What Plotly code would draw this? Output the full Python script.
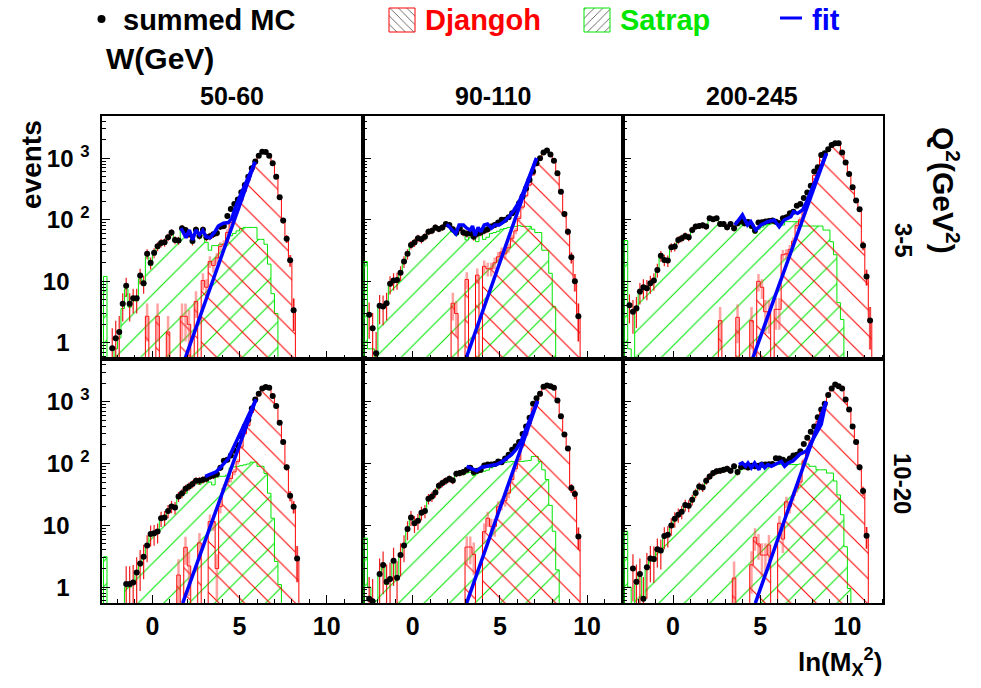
import numpy as np
import plotly.graph_objects as go

# ---------------- data ----------------
BIN_LO = -2.8      # lower edge of first bin in ln(M_X^2)
BIN_W = 0.2        # bin width

W_LABELS = ["50-60", "90-110", "200-245"]
Q2_LABELS = ["3-5", "10-20"]
Y_TICKS = [1, 10, 100, 1000]
Y_TICKTEXT = ["1\u00a0\u00a0\u00a0", "10\u00a0\u00a0\u00a0", "10 <sup>2</sup>", "10 <sup>3</sup>"]
X_TICKS = [0, 5, 10]

# panel W 50-60, Q2 3-5
mc_w50_q3 = [None, None, 0.82, 1.19, 1.5, 4.3, 8.5, 4.3, 5.3, 5.3,
             12.4, 9.3, 28, 20, 29, 37, 42, 43, 52, 62,
             47, 46, 73, 68, 58, 45, 69, 55, 69, 52,
             54, 58, 61, 77, 79, 115, 150, 180, 214, 280,
             367, 500, 685, 880, 1100, 1275, 1260, 1100, 830, 500,
             232, 97, 49, 22, 3.4, None]
sat_w50_q3 = [12, 0, 0, 0.8, 1.2, 3.6, 7.5, 3.8, 4.8, 4.8,
              11, 8.5, 25, 18, 27, 34, 39, 40, 49, 58,
              44, 43, 68, 63, 54, 42, 62, 50, 56, 43,
              32, 38, 38, 40, 40, 50, 55, 60, 66, 72,
              75, 75, 75, 75, 48, 48, 40, 19, 6.3, 3,
              0, 0, 0, 0, 0, 0]
dj_w50_q3 = [0, 0, 0, 0, 0, 0, 0, 0, 0, 0,
             0, 0, 2.7, 0, 0, 2.7, 0, 0, 1.5, 0,
             0, 0, 2.7, 2.7, 2, 0, 4.7, 0, 10.3, 8,
             21, 18, 24, 37, 40, 62, 90, 115, 145, 205,
             290, 425, 610, 805, 1050, 1235, 1220, 1080, 825, 497,
             232, 97, 49, 22, 3.4, 0]
fexp_x_w50_q3 = [1.87, 5.89]
fexp_y_w50_q3 = [0.55, 870]
ftot_x_w50_q3 = [1.64, 1.93, 2.12, 2.31, 2.5, 2.7, 2.89, 3.08, 3.3, 3.59, 3.78, 4.07, 4.36, 4.55, 4.74, 5.03, 5.89]
ftot_y_w50_q3 = [73, 51, 68, 47, 68, 57, 67, 53, 51, 64, 79, 88, 90, 105, 153, 243, 870]

# panel W 90-110, Q2 3-5
mc_w90_q3 = [None, 2.85, 1.73, 0.68, 4, 3.9, 4.4, 9.1, 10.3, 10.5,
             13.8, 21, 28, 39, 42.6, 50, 48, 53, 64, 66.5,
             75, 71, 75, 85, 82, 70, 62, 72.5, 62, 59,
             60.5, 53, 59, 62, 66, 70, 77.6, 82, 90, 100,
             100, 110, 127, 144, 185, 238, 323, 443, 605, 826,
             1000, 1240, 1330, 1150, 910, 568, 286, 124, 64, 24.5,
             10, 2.7]
sat_w90_q3 = [21, 0.8, 0.8, 0.6, 3.8, 3.7, 4.2, 8.5, 9.8, 10,
              13, 20, 27, 37, 40, 47, 46, 51, 61, 63,
              71, 68, 72, 80, 75, 63, 56, 68, 58, 47,
              52, 50, 44, 58, 48, 52, 60, 62, 65, 70,
              72, 75, 77, 78, 80, 78, 78, 78, 70, 62,
              62, 32, 32, 13.5, 3.9, 0, 0, 0, 0, 0,
              0, 0]
dj_w90_q3 = [0, 0, 0, 0, 0, 0, 0, 0, 0, 0,
             0, 0, 0, 0, 0, 0, 0, 0, 0, 0,
             0, 0, 0, 0, 0, 4.4, 3, 0, 0, 10.7,
             0, 0, 12.6, 0, 17.5, 16, 16, 20, 25, 30,
             28, 35, 50, 66, 105, 160, 245, 365, 535, 765,
             940, 1210, 1300, 1140, 905, 568, 286, 124, 64, 24.5,
             10, 2.7]
fexp_x_w90_q3 = [3.05, 7.1]
fexp_y_w90_q3 = [0.55, 1000]
ftot_x_w90_q3 = [1.95, 2.19, 2.47, 2.66, 2.91, 3.1, 3.29, 3.43, 3.58, 3.75, 3.91, 4.1, 4.29, 4.52, 4.71,
                 4.96, 5.24, 5.53, 5.82, 6.1, 6.35, 7.1]
ftot_y_w90_q3 = [85, 73, 59, 82, 82, 73, 68, 79, 55, 75, 64, 82, 85, 73, 82, 82, 93, 112, 144, 197, 286, 1000]

# panel W 200-245, Q2 3-5
mc_w200_q3 = [None, 4.1, 3.2, 3.65, 6.8, 8.0, 7.7, 9.3, 10.3, 15.3,
              25.9, 22.2, 21.7, 35.7, 36.6, 47, 50, 54.6, 52, 68.4,
              77.5, 79.4, 81.4, 77.5, 106, 102, 106, 85.5, 85.5, 75.5,
              85.5, 72.7, 88, 95, 88, 92, 80, 66.7, 90, 91,
              93.4, 95, 97, 93, 87.5, 106, 110, 127, 135, 169,
              180, 225, 277, 355, 605, 711, 1127, 1200, 1390, 1636,
              1740, 1740, 1240, 847, 554, 336, 205, 148, 38, 12,
              2.3]
sat_w200_q3 = [46, 0.8, 0, 3.3, 6.2, 7.4, 7.1, 8.6, 9.6, 14.2,
               24, 20.6, 20.2, 33, 34, 44, 46.5, 51, 48, 63.6,
               72, 74, 76, 72, 98, 95, 98, 80, 78, 70,
               79, 68, 80, 84, 80, 84, 72, 60, 70, 76,
               82, 84, 86, 86, 80, 82, 93, 93, 93, 93,
               93, 79, 79, 79, 79, 79, 79, 68, 68, 44,
               27, 4.5, 2.4, 0, 0, 0, 0, 0, 0, 0,
               0]
dj_w200_q3 = [0, 0, 0, 0, 0, 0, 0, 0, 0, 0,
              0, 0, 0, 0, 0, 0, 0, 0, 0, 0,
              0, 0, 0, 0, 0, 0, 0, 2.3, 0, 0,
              0, 0, 2.6, 0, 0, 0, 2.3, 0, 10, 8,
              3.2, 3.2, 0, 3.5, 3.5, 27, 28, 33, 45, 80,
              100, 146, 198, 276, 526, 632, 1048, 1132, 1322, 1592,
              1713, 1735, 1238, 847, 554, 336, 205, 148, 38, 12,
              2.3]
fexp_x_w200_q3 = [4.56, 8.8]
fexp_y_w200_q3 = [0.55, 1200]
ftot_x_w200_q3 = [3.55, 3.98, 4.27, 4.46, 4.75, 5.04, 5.42, 5.8, 6.09, 6.37, 6.76, 6.91, 7.14, 7.43, 7.71, 7.9, 8.8]
ftot_y_w200_q3 = [82, 120, 82, 93, 68, 82, 93, 99, 77, 99, 112, 135, 127, 144, 210, 286, 1200]

# panel W 50-60, Q2 10-20
mc_w50_q10 = [None, None, None, None, None, None, 1.12, 1.12, 1.19, 1.73,
              2.42, 3.1, 4.7, 7.2, 7.4, 7.9, 13, 13.4, 17.1, 20.2,
              19.4, 29.3, 33, 38.9, 42.6, 46.5, 52.5, 52.5, 54.6, 56.6,
              61.7, 64, 67.6, 85, 111, 115, 135, 161, 197, 276,
              398, 510, 773, 1087, 1343, 1637, 1720, 1680, 1230, 847,
              454, 223, 86.5, 30, 20, 2.9]
sat_w50_q10 = [3.1, 0, 0, 0, 0, 0, 1.0, 1.0, 1.1, 1.6,
               2.2, 2.9, 4.4, 6.8, 7.0, 7.5, 12.3, 12.7, 16.2, 19,
               18.4, 27, 30, 33, 39, 44, 50, 46, 50, 54,
               50, 45, 60, 62, 62, 65, 85, 88, 90, 92,
               95, 98, 105, 105, 90, 90, 69, 33, 13, 2.6,
               1.1, 0, 0, 0, 0, 0]
dj_w50_q10 = [0, 0, 0, 0, 0, 0, 0, 0, 0, 0,
              0, 0, 0, 0, 0, 0, 0, 0, 0, 0,
              0, 1.57, 0, 4.4, 2.2, 0, 0, 5.2, 0, 0,
              11.5, 11.5, 2, 20, 40, 50, 57, 73, 107, 184,
              303, 412, 668, 982, 1253, 1549, 1651, 1649, 1217, 844,
              453, 223, 86.5, 30, 20, 2.9]
fexp_x_w50_q10 = [1.74, 5.94]
fexp_y_w50_q10 = [0.55, 1087]
ftot_x_w50_q10 = [3.03, 3.36, 3.65, 3.88, 4.13, 4.36, 4.64, 4.87, 5.94]
ftot_y_w50_q10 = [62, 68, 73, 85, 102, 120, 178, 244, 1087]

# panel W 90-110, Q2 10-20
mc_w90_q10 = [None, 0.65, 0.59, None, 1.63, 2.27, 1.22, 1.35, 2.68, 1.42,
              3.3, 4.7, 8.7, 13.4, 10.8, 11.8, 16, 17.1, 26.8, 29.3,
              34, 43.6, 48.2, 52.5, 56.6, 53.2, 68.2, 70, 72.5, 79,
              85, 72.5, 76, 79, 93, 96, 96, 98, 108, 105,
              120, 139, 167, 190, 223, 300, 398, 547, 923, 1130,
              1343, 1745, 1823, 1780, 1680, 1045, 582, 294, 174, 40,
              32, 6.6]
sat_w90_q10 = [6.2, 1.0, 0, 0.6, 1.5, 2.1, 1.1, 1.25, 2.5, 1.3,
               3.1, 4.4, 8.1, 12.5, 10, 11, 15, 16, 25, 27,
               32, 41, 45, 49, 53, 50, 64, 65, 66, 70,
               72, 64, 70, 72, 75, 78, 85, 90, 96, 100,
               104, 106, 108, 108, 108, 108, 110, 112, 130, 130,
               108, 79, 55, 21, 8, 1.9, 0, 0, 0, 0,
               0, 0]
dj_w90_q10 = [0, 0, 0, 0, 0, 0, 0, 0, 0, 0,
              0, 0, 0, 0, 0, 0, 0, 0, 0, 0,
              0, 0, 0, 0, 0, 0, 0, 0, 0, 4.45,
              4.45, 3.4, 0, 0, 7.9, 13, 9.6, 9.6, 20, 22,
              25, 33, 55, 82, 115, 192, 288, 435, 793, 1000,
              1235, 1666, 1768, 1759, 1672, 1045, 582, 294, 174, 40,
              32, 6.6]
fexp_x_w90_q10 = [3.09, 7.16]
fexp_y_w90_q10 = [0.55, 1020]
ftot_x_w90_q10 = [3.09, 3.38, 3.67, 3.95, 4.24, 4.52, 4.81, 5.09, 5.38, 5.66, 5.95, 6.23, 6.52, 7.16]
ftot_y_w90_q10 = [90, 83, 76, 87, 90, 90, 96, 105, 120, 139, 171, 234, 376, 1020]

# panel W 200-245, Q2 10-20
mc_w200_q10 = [None, None, 2.0, 1.22, 1.63, 0.65, 2.1, 2.9, 2.85, 4.1,
               3.9, 6.7, 7.0, 9.9, 12.7, 14.8, 16.6, 21.3, 20.8, 26,
               33.2, 42.6, 41, 52.5, 61.7, 70, 74.5, 76.4, 79, 82.4,
               76.4, 90, 72.5, 88, 90, 86, 92, 90, 92, 96,
               96, 97, 98, 122, 120, 115, 108, 120, 135, 139,
               158, 207, 260, 325, 398, 561, 750, 923, 1276, 1637,
               1900, 1780, 1637, 1087, 748, 398, 223, 87, 36, 6.8]
sat_w200_q10 = [8, 1.0, 0.5, 1.1, 1.5, 0.6, 1.9, 2.7, 2.6, 3.8,
                3.6, 6.2, 6.5, 9.2, 11.8, 13.8, 15.4, 19.8, 19.3, 24,
                31, 39.6, 38, 49, 57, 65, 69, 71, 73, 76,
                71, 83, 67, 80, 82, 80, 85, 84, 85, 88,
                90, 92, 92, 96, 96, 96, 96, 96, 96, 96,
                98, 98, 98, 90, 90, 79, 79, 79, 70, 70,
                52, 31, 14.8, 4.5, 0.95, 0, 0, 0, 0, 0]
dj_w200_q10 = [0, 0, 0, 0, 0, 0, 0, 0, 0, 0,
               0, 0, 0, 0, 0, 0, 0, 0, 0, 0,
               0, 0, 0, 0, 0, 0, 0, 0, 0, 0,
               0, 1.4, 0, 0, 0, 0, 2.3, 6.4, 5, 3.3,
               3.3, 4.8, 0, 0, 10.8, 6, 24, 20, 30, 40,
               50, 110, 162, 235, 308, 482, 671, 844, 1206, 1567,
               1848, 1749, 1622, 1083, 747, 398, 223, 87, 36, 6.8]
fexp_x_w200_q10 = [4.72, 8.78]
fexp_y_w200_q10 = [0.55, 1000]
ftot_x_w200_q10 = [3.78, 3.97, 4.16, 4.3, 4.49, 4.68, 4.93, 5.06, 5.26, 5.45, 5.64, 5.93, 6.21, 6.4, 6.6,
                   6.88, 7.27, 7.65, 7.93, 8.22, 8.5, 8.78]
ftot_y_w200_q10 = [96, 102, 90, 102, 85, 102, 79, 102, 85, 96, 90, 98, 108, 90, 102,
                   110, 141, 158, 215, 295, 427, 1000]

PANELS = [
    (mc_w50_q3, dj_w50_q3, sat_w50_q3, fexp_x_w50_q3, fexp_y_w50_q3, ftot_x_w50_q3, ftot_y_w50_q3),
    (mc_w90_q3, dj_w90_q3, sat_w90_q3, fexp_x_w90_q3, fexp_y_w90_q3, ftot_x_w90_q3, ftot_y_w90_q3),
    (mc_w200_q3, dj_w200_q3, sat_w200_q3, fexp_x_w200_q3, fexp_y_w200_q3, ftot_x_w200_q3, ftot_y_w200_q3),
    (mc_w50_q10, dj_w50_q10, sat_w50_q10, fexp_x_w50_q10, fexp_y_w50_q10, ftot_x_w50_q10, ftot_y_w50_q10),
    (mc_w90_q10, dj_w90_q10, sat_w90_q10, fexp_x_w90_q10, fexp_y_w90_q10, ftot_x_w90_q10, ftot_y_w90_q10),
    (mc_w200_q10, dj_w200_q10, sat_w200_q10, fexp_x_w200_q10, fexp_y_w200_q10, ftot_x_w200_q10, ftot_y_w200_q10),
]

# ---------------- styling / layout ----------------
W, H = 981, 688
FONT = "Liberation Sans, Arial, Helvetica, sans-serif"
RED = "#ff0000"
GREEN = "#00e600"
BLUE = "#0000ff"
ERR_RED = "rgba(255,70,70,0.5)"
MC_ERR = "rgba(235,0,0,0.9)"
FLOOR = 0.01
X_RANGE = [-2.87, 12.06]
Y_RANGE = [np.log10(0.547), 3.69]

COL_PX = [(102.3, 362.7), (362.7, 623.0), (623.0, 883.3)]
ROW_PX = [(115.7, 359.0), (359.0, 603.3)]


def px_x(p):
    return p / W


def px_y(p):
    return 1 - p / H


def step_outline(vals):
    n = len(vals)
    e = BIN_LO + BIN_W * np.arange(n + 1)
    v = [val if val and val > 0 else FLOOR for val in vals]
    xs = [e[0]] + list(e[:-1]) + [e[-1]]
    ys = [FLOOR] + v + [FLOOR]
    return xs, ys


def centers(n):
    return BIN_LO + BIN_W * (np.arange(n) + 0.5)


fig = go.Figure()
minor_y = [d * 10 ** k for k in range(-1, 4) for d in range(2, 10)]

for i, (mc, dj, sat, fex, fey, ftx, fty) in enumerate(PANELS):
    r, c = divmod(i, 3)
    n = i + 1
    xa = "x" if n == 1 else f"x{n}"
    ya = "y" if n == 1 else f"y{n}"

    # Satrap histogram
    sx, sy = step_outline(sat)
    fig.add_trace(go.Scatter(x=sx, y=sy, mode="lines", xaxis=xa, yaxis=ya,
                             line=dict(color=GREEN, width=1, shape="hv"),
                             fill="toself", fillcolor="rgba(0,0,0,0)",
                             fillpattern=dict(shape="/", fgcolor=GREEN, fgopacity=1,
                                              bgcolor="rgba(0,0,0,0)", size=18, solidity=0.06),
                             hoverinfo="skip", showlegend=False))
    # Djangoh histogram
    dx, dy = step_outline(dj)
    fig.add_trace(go.Scatter(x=dx, y=dy, mode="lines", xaxis=xa, yaxis=ya,
                             line=dict(color=RED, width=1, shape="hv"),
                             fill="toself", fillcolor="rgba(0,0,0,0)",
                             fillpattern=dict(shape="\\", fgcolor=RED, fgopacity=1,
                                              bgcolor="rgba(0,0,0,0)", size=18, solidity=0.06),
                             hoverinfo="skip", showlegend=False))
    # Djangoh error bars
    cen = centers(len(dj))
    ex = [cx for cx, v in zip(cen, dj) if v > 0]
    ey = [v for v in dj if v > 0]
    fig.add_trace(go.Scatter(x=ex, y=ey, mode="markers", xaxis=xa, yaxis=ya,
                             marker=dict(size=1, color="rgba(0,0,0,0)"),
                             error_y=dict(type="sqrt", color=ERR_RED, thickness=2.5, width=0),
                             hoverinfo="skip", showlegend=False))
    # summed MC points
    cen = centers(len(mc))
    mx = [cx for cx, v in zip(cen, mc) if v is not None]
    my = [v for v in mc if v is not None]
    fig.add_trace(go.Scatter(x=mx, y=my, mode="markers", xaxis=xa, yaxis=ya,
                             marker=dict(size=6, color="black"),
                             error_y=dict(type="sqrt", color=MC_ERR, thickness=1.2, width=0),
                             hoverinfo="skip", showlegend=False))
    # fits
    fig.add_trace(go.Scatter(x=fex, y=fey, mode="lines", xaxis=xa, yaxis=ya,
                             line=dict(color=BLUE, width=3.5), hoverinfo="skip", showlegend=False))
    fig.add_trace(go.Scatter(x=ftx, y=fty, mode="lines", xaxis=xa, yaxis=ya,
                             line=dict(color=BLUE, width=3.5), hoverinfo="skip", showlegend=False))

    xk = "xaxis" if n == 1 else f"xaxis{n}"
    yk = "yaxis" if n == 1 else f"yaxis{n}"
    fig.layout[xk] = dict(
        domain=[px_x(COL_PX[c][0]), px_x(COL_PX[c][1])],
        range=X_RANGE, anchor=ya, showgrid=False, zeroline=False,
        showline=True, mirror=True, linecolor="black", linewidth=2,
        tickmode="array", tickvals=X_TICKS, ticks="inside", ticklen=8, tickwidth=1, tickcolor="black",
        minor=dict(ticks="inside", ticklen=4, dtick=1, tick0=0, tickcolor="black"),
        showticklabels=(r == 1), ticklabelstandoff=0,
        tickfont=dict(family=FONT, size=25, color="black", weight="bold"),
        fixedrange=True)
    fig.layout[yk] = dict(
        domain=[px_y(ROW_PX[r][1]), px_y(ROW_PX[r][0])],
        type="log", range=Y_RANGE, anchor=xa, showgrid=False, zeroline=False,
        showline=True, mirror=True, linecolor="black", linewidth=2,
        tickmode="array", tickvals=Y_TICKS, ticktext=Y_TICKTEXT,
        ticks="inside", ticklen=8, tickwidth=1, tickcolor="black",
        minor=dict(ticks="inside", ticklen=4, tickmode="array", tickvals=minor_y, tickcolor="black"),
        showticklabels=(c == 0), ticklabelstandoff=6,
        tickfont=dict(family=FONT, size=24, color="black", weight="bold"),
        fixedrange=True)

# legend row drawn on its own hidden axes
fig.layout["xaxis7"] = dict(domain=[0, 1], range=[0, W], visible=False, fixedrange=True, anchor="y7")
fig.layout["yaxis7"] = dict(domain=[1 - 45 / H, 1], range=[45, 0], visible=False, fixedrange=True, anchor="x7")
fig.add_trace(go.Scatter(x=[101.5], y=[19], mode="markers", xaxis="x7", yaxis="y7",
                         marker=dict(size=8, color="black"), hoverinfo="skip", showlegend=False))
for (x0, x1), col, shp in [((389, 415), RED, "\\"), ((584, 610), GREEN, "/")]:
    fig.add_trace(go.Scatter(x=[x0, x1, x1, x0, x0], y=[8, 8, 32, 32, 8], mode="lines",
                             xaxis="x7", yaxis="y7", line=dict(color=col, width=1),
                             fill="toself", fillcolor="rgba(0,0,0,0)",
                             fillpattern=dict(shape=shp, fgcolor="black", fgopacity=0.8,
                                              bgcolor="rgba(0,0,0,0)", size=6, solidity=0.12),
                             hoverinfo="skip", showlegend=False))
fig.add_trace(go.Scatter(x=[780, 802], y=[18, 18], mode="lines", xaxis="x7", yaxis="y7",
                         line=dict(color=BLUE, width=3), hoverinfo="skip", showlegend=False))

ann = []


def add_text(text, x, y, size, color="black", xanchor="left", angle=0):
    ann.append(dict(text=text, x=px_x(x), y=px_y(y), xref="paper", yref="paper",
                    xanchor=xanchor, yanchor="middle", showarrow=False, textangle=angle,
                    font=dict(family=FONT, size=size, color=color, weight="bold")))


add_text("summed MC", 121, 20, 29)
add_text("Djangoh", 423, 20, 29, RED)
add_text("Satrap", 618, 20, 29, GREEN)
add_text("fit", 810, 20, 29, BLUE)
add_text("W(GeV)", 104, 58, 30)
for c, lab in enumerate(W_LABELS):
    add_text(lab, [231.5, 493, 752][c], 96, 25, xanchor="center")
add_text("events", 31, 165, 28, xanchor="center", angle=-90)
add_text("Q<sup>2</sup>(GeV<sup>2</sup>)", 946, 190, 30, xanchor="center", angle=90)
add_text(Q2_LABELS[0], 903, 240, 24, xanchor="center", angle=90)
add_text(Q2_LABELS[1], 903, 483, 24, xanchor="center", angle=90)
add_text("ln(M<sub>X</sub><sup>2</sup>)", 840, 662, 26, xanchor="center")

fig.update_layout(width=W, height=H, margin=dict(l=0, r=0, t=0, b=0, pad=0),
                  paper_bgcolor="white", plot_bgcolor="rgba(0,0,0,0)",
                  showlegend=False, annotations=ann,
                  font=dict(family=FONT, color="black"))

fig.write_html("out.html", config={"displayModeBar": False},
               post_script="document.body.style.margin='0px';document.body.style.padding='0px';")
